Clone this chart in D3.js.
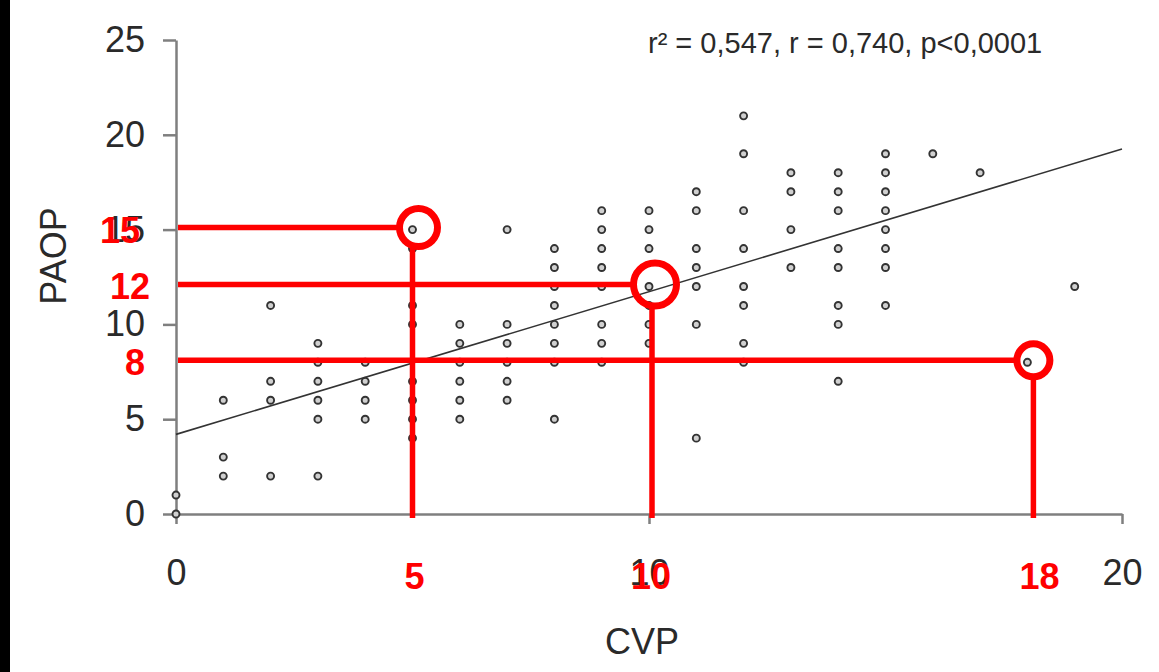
<!DOCTYPE html>
<html>
<head>
<meta charset="utf-8">
<script src="https://cdn.jsdelivr.net/npm/d3@7"></script>
<style>
  body { margin: 0; background: #fff; }
  svg { display: block; font-family: "Liberation Sans", Arial, sans-serif; }
</style>
</head>
<body>
<div id="vis"></div>
<script>
const FRAME_WIDTH = 1159;
const FRAME_HEIGHT = 672;

// CVP (x) and PAOP (y) pairs, read column by column
const cvp = [0, 0,
  1, 1, 1,
  2, 2, 2, 2,
  3, 3, 3, 3, 3, 3,
  4, 4, 4, 4,
  5, 5, 5, 5, 5, 5, 5, 5,
  6, 6, 6, 6, 6, 6,
  7, 7, 7, 7, 7, 7,
  8, 8, 8, 8, 8, 8, 8, 8,
  9, 9, 9, 9, 9, 9, 9, 9,
  10, 10, 10, 10, 10, 10, 10,
  11, 11, 11, 11, 11, 11, 11,
  12, 12, 12, 12, 12, 12, 12, 12,
  13, 13, 13, 13,
  14, 14, 14, 14, 14, 14, 14, 14,
  15, 15, 15, 15, 15, 15, 15, 15,
  16, 17, 18, 19];
const paop = [0, 1,
  6, 3, 2,
  11, 7, 6, 2,
  9, 8, 7, 6, 5, 2,
  8, 7, 6, 5,
  15, 14, 11, 10, 7, 6, 5, 4,
  10, 9, 8, 7, 6, 5,
  15, 10, 9, 8, 7, 6,
  14, 13, 12, 11, 10, 9, 8, 5,
  16, 15, 14, 13, 12, 10, 9, 8,
  16, 15, 14, 12, 11, 10, 9,
  17, 16, 14, 13, 12, 10, 4,
  21, 19, 16, 14, 12, 11, 9, 8,
  18, 17, 15, 13,
  18, 17, 16, 14, 13, 11, 10, 7,
  19, 18, 17, 16, 15, 14, 13, 11,
  19, 18, 8, 12];

const yTicks = [0, 5, 10, 15, 20, 25];
const xTicks = [0, 10, 20];

// regression line end points
const fitX = [0, 20];
const fitY = [4.2, 19.25];

// red highlighted readings
const markCvp = [5, 10, 18];
const markPaop = [15, 12, 8];

const statsText = "r\u00b2 = 0,547, r = 0,740, p<0,0001";

const svg = d3.select("#vis")
  .append("svg")
    .attr("width", FRAME_WIDTH)
    .attr("height", FRAME_HEIGHT);

svg.append("rect")
  .attr("width", FRAME_WIDTH).attr("height", FRAME_HEIGHT)
  .attr("fill", "#fff");
svg.append("rect")
  .attr("width", 10).attr("height", FRAME_HEIGHT)
  .attr("fill", "#000");

const X_SCALE = d3.scaleLinear().domain([0, 20]).range([176, 1122]);
const Y_SCALE = d3.scaleLinear().domain([0, 25]).range([514, 40]);

const AXIS_COLOR = "#7f7f7f";
const TEXT_COLOR = "#2a2a2a";
const FONT = 36;

// y axis
const yAxis = svg.append("g")
  .attr("transform", "translate(" + X_SCALE(0) + ",0)")
  .call(d3.axisLeft(Y_SCALE).tickValues(yTicks).tickSize(13).tickSizeOuter(0).tickPadding(18));
yAxis.select(".domain").attr("stroke", AXIS_COLOR).attr("stroke-width", 2.5);
yAxis.selectAll(".tick line").attr("stroke", AXIS_COLOR).attr("stroke-width", 2.5);
yAxis.selectAll(".tick text")
  .attr("font-size", FONT).attr("fill", TEXT_COLOR)
  .attr("font-family", "Liberation Sans, Arial, sans-serif");

// x axis
const xAxis = svg.append("g")
  .attr("transform", "translate(0," + Y_SCALE(0) + ")")
  .call(d3.axisBottom(X_SCALE).tickValues(xTicks).tickSize(10).tickSizeOuter(0).tickPadding(35));
xAxis.select(".domain").attr("stroke", AXIS_COLOR).attr("stroke-width", 2.5);
xAxis.selectAll(".tick line").attr("stroke", AXIS_COLOR).attr("stroke-width", 2.5);
xAxis.selectAll(".tick text")
  .attr("font-size", FONT).attr("fill", TEXT_COLOR)
  .attr("font-family", "Liberation Sans, Arial, sans-serif");

// axis titles
svg.append("text")
  .attr("transform", "translate(66,256) rotate(-90)")
  .attr("text-anchor", "middle")
  .attr("font-size", FONT).attr("fill", TEXT_COLOR)
  .text("PAOP");
svg.append("text")
  .attr("x", 642).attr("y", 654)
  .attr("text-anchor", "middle")
  .attr("font-size", FONT).attr("fill", TEXT_COLOR)
  .text("CVP");

svg.append("text")
  .attr("x", 648).attr("y", 53)
  .attr("font-size", 29).attr("fill", TEXT_COLOR)
  .text(statsText);

// points
svg.selectAll(".point")
  .data(cvp)
  .enter()
  .append("circle")
    .attr("class", "point")
    .attr("cx", (d) => X_SCALE(d))
    .attr("cy", (d, i) => Y_SCALE(paop[i]))
    .attr("r", 3.5)
    .attr("fill", "#d0d0d0")
    .attr("stroke", "#333")
    .attr("stroke-width", 1.9);

// regression line
svg.append("line")
  .attr("x1", X_SCALE(fitX[0])).attr("y1", Y_SCALE(fitY[0]))
  .attr("x2", X_SCALE(fitX[1])).attr("y2", Y_SCALE(fitY[1]))
  .attr("stroke", "#333")
  .attr("stroke-width", 1.6);

// red readings
const RED = "#ff0000";
const ringRadius = [19, 21.5, 16.5];
const marks = svg.append("g");
markCvp.forEach((cx, i) => {
  const px = X_SCALE(cx);
  const py = Y_SCALE(markPaop[i]) - 2;
  const ringX = px + 6;
  const stemX = px + i * 3;
  const R = ringRadius[i];
  marks.append("line")
    .attr("x1", X_SCALE(0) + 2).attr("y1", py)
    .attr("x2", ringX - R).attr("y2", py)
    .attr("stroke", RED).attr("stroke-width", 5.5);
  marks.append("line")
    .attr("x1", stemX).attr("y1", py + R)
    .attr("x2", stemX).attr("y2", Y_SCALE(0) + 4)
    .attr("stroke", RED).attr("stroke-width", 5.5);
  marks.append("circle")
    .attr("cx", ringX).attr("cy", py)
    .attr("r", R)
    .attr("fill", "none")
    .attr("stroke", RED).attr("stroke-width", 7);
  marks.append("text")
    .attr("x", px + (cx === 18 ? 12 : 2)).attr("y", 589)
    .attr("text-anchor", "middle")
    .attr("font-size", FONT).attr("font-weight", "bold").attr("fill", RED)
    .text(cx);
  marks.append("text")
    .attr("x", markPaop[i] === 15 ? 140 : (markPaop[i] === 12 ? 150 : 145)).attr("y", py + 15)
    .attr("text-anchor", "end")
    .attr("font-size", FONT).attr("font-weight", "bold").attr("fill", RED)
    .text(markPaop[i]);
});
</script>
</body>
</html>
